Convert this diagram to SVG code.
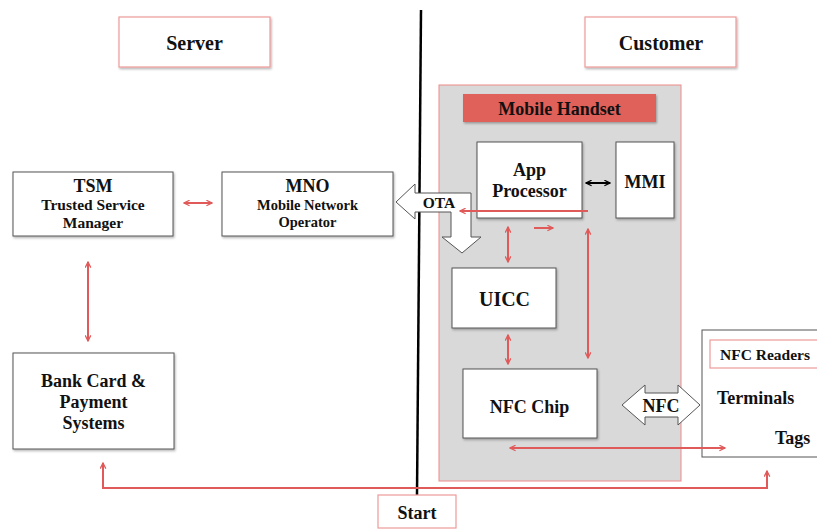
<svg xmlns="http://www.w3.org/2000/svg" width="817" height="529" viewBox="0 0 817 529">
<defs>
<marker id="ra" viewBox="0 0 10 10" refX="9" refY="5" markerWidth="7" markerHeight="7" orient="auto-start-reverse" markerUnits="userSpaceOnUse">
<polyline points="1,1 9,5 1,9" fill="none" stroke="#e05a5a" stroke-width="1.8"/>
</marker>
<marker id="ba" viewBox="0 0 10 10" refX="9" refY="5" markerWidth="7" markerHeight="7" orient="auto-start-reverse" markerUnits="userSpaceOnUse">
<polyline points="1,1 9,5 1,9" fill="none" stroke="#000" stroke-width="1.8"/>
</marker>
<filter id="sh" x="-10%" y="-10%" width="120%" height="130%">
<feDropShadow dx="1" dy="1.5" stdDeviation="1" flood-color="#000" flood-opacity="0.3"/>
</filter>
</defs>
<style>
text{font-weight:bold;fill:#111;text-anchor:middle}
.box{fill:#fff;stroke:#555;stroke-width:1}
.rbox{fill:#fff;stroke:#ef9a9a;stroke-width:1.2}
.rl{fill:none;stroke:#e05a5a;stroke-width:2}
.t20{font-size:20px}
.t18{font-size:18px}
.t15{font-size:15.5px}
.t14{font-size:14.5px}
</style>
<rect width="817" height="529" fill="#fff"/>
<g font-family="Liberation Serif, serif">

<g id="divider"><line x1="421" y1="10" x2="417" y2="495" stroke="#000" stroke-width="2.5"/></g>

<g id="server"><rect class="rbox" x="119" y="17" width="151" height="50" filter="url(#sh)"/><text class="t20" x="194.5" y="50">Server</text></g>
<g id="customer"><rect class="rbox" x="585" y="17" width="151" height="50" filter="url(#sh)"/><text class="t20" x="661" y="50">Customer</text></g>

<g id="handset"><rect x="439" y="85" width="242" height="396" fill="#d9d9d9" stroke="#ef8a8a" stroke-width="1"/>
<rect x="463" y="94" width="193" height="28" fill="#e0605a" filter="url(#sh)"/><text class="t18" x="559.5" y="115">Mobile Handset</text></g>

<g id="tsm"><rect class="box" x="13" y="172" width="160" height="64" filter="url(#sh)"/>
<text class="t18" x="93" y="192">TSM</text><text class="t15" x="93" y="210">Trusted Service</text><text class="t15" x="93" y="228">Manager</text></g>
<g id="mno"><rect class="box" x="222" y="172" width="171" height="64" filter="url(#sh)"/>
<text class="t18" x="307.5" y="192">MNO</text><text class="t14" x="307.5" y="210">Mobile Network</text><text class="t14" x="307.5" y="227">Operator</text></g>
<g id="bank"><rect class="box" x="13" y="353" width="161" height="96" filter="url(#sh)"/>
<text class="t18" x="93.5" y="387">Bank Card &amp;</text><text class="t18" x="93.5" y="408">Payment</text><text class="t18" x="93.5" y="429">Systems</text></g>

<g id="app"><rect class="box" x="477" y="142" width="105" height="76" filter="url(#sh)"/>
<text class="t18" x="529.5" y="176">App</text><text class="t18" x="529.5" y="197">Processor</text></g>
<g id="mmi"><rect class="box" x="616" y="142" width="58" height="76" filter="url(#sh)"/><text class="t18" x="645" y="188">MMI</text></g>
<g id="uicc"><rect class="box" x="452" y="268" width="104" height="60" filter="url(#sh)"/><text class="t20" x="504.5" y="306">UICC</text></g>
<g id="nfcchip"><rect class="box" x="463" y="369" width="134" height="69" filter="url(#sh)"/><text class="t18" x="529.5" y="413">NFC Chip</text></g>

<g id="readers"><rect class="box" x="702" y="330" width="120" height="127"/>
<rect class="rbox" x="710" y="340" width="112" height="28"/>
<text class="t15" x="720" y="360" style="text-anchor:start">NFC Readers</text>
<text class="t18" x="717" y="404" style="text-anchor:start">Terminals</text>
<text class="t18" x="775" y="444" style="text-anchor:start">Tags</text></g>

<g id="start"><rect class="rbox" x="378" y="495" width="78" height="33"/><text class="t18" x="417" y="519">Start</text></g>

<g id="ota"><path d="M396,202 L415,184 L415,193 L471,193 L471,237 L481,237 L462,253 L442,237 L451,237 L451,212 L415,212 L415,219 Z" fill="#fff" stroke="#555" stroke-width="1"/>
<text class="t15" x="439" y="208">OTA</text></g>
<g id="nfcarrow"><path d="M622,405 L645,385 L645,393 L678,393 L678,385 L700,405 L678,425 L678,417 L645,417 L645,425 Z" fill="#fff" stroke="#555" stroke-width="1"/>
<text class="t18" x="661" y="412">NFC</text></g>
</g>

<g id="connectors">
<line class="rl" x1="184" y1="203" x2="212" y2="203" marker-start="url(#ra)" marker-end="url(#ra)"/>
<line class="rl" x1="88" y1="262" x2="88" y2="341" marker-start="url(#ra)" marker-end="url(#ra)"/>
<line x1="586" y1="183" x2="610" y2="183" stroke="#000" stroke-width="2" marker-start="url(#ba)" marker-end="url(#ba)"/>
<line class="rl" x1="588" y1="211" x2="460" y2="211" marker-end="url(#ra)"/>
<line class="rl" x1="534" y1="228" x2="553" y2="228" marker-end="url(#ra)"/>
<line class="rl" x1="508" y1="227" x2="508" y2="262" marker-start="url(#ra)" marker-end="url(#ra)"/>
<line class="rl" x1="588" y1="229" x2="588" y2="358" marker-start="url(#ra)" marker-end="url(#ra)"/>
<line class="rl" x1="508" y1="335" x2="508" y2="364" marker-start="url(#ra)" marker-end="url(#ra)"/>
<line class="rl" x1="510" y1="448" x2="725" y2="448" marker-start="url(#ra)" marker-end="url(#ra)"/>
<polyline class="rl" points="103,463 103,488 767,488 767,471" marker-start="url(#ra)" marker-end="url(#ra)"/>
</g>
</svg>
